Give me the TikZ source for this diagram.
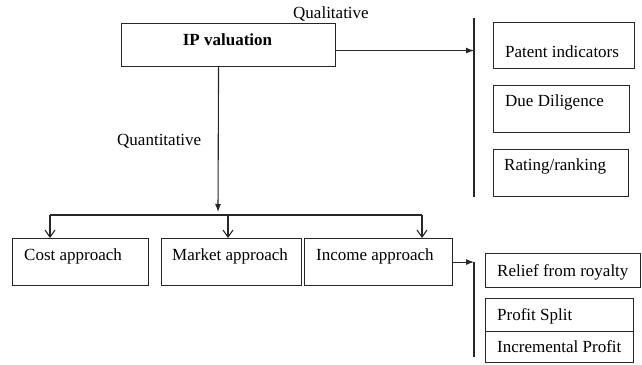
\documentclass[tikz,border=0pt]{standalone}
\usepackage{fontspec}
\setmainfont{Liberation Serif}
\usetikzlibrary{arrows.meta}
\begin{document}
\begin{tikzpicture}[x=1pt,y=-1pt,
  box/.style={draw=black!85,line width=1.1pt,rectangle,inner sep=0pt,anchor=north west},
  txt/.style={anchor=base west,inner sep=0pt,font=\fontsize{17}{20}\selectfont},
  ln/.style={draw=black!85,line width=1.1pt},
  arr/.style={ln,-{Latex[length=8pt,width=6pt]}},
  oarr/.style={ln,-{Straight Barb[length=7pt,width=10pt]}}]
\useasboundingbox (0,0) rectangle (642,364);
% boxes
\node[box,minimum width=214pt,minimum height=43pt] (ip) at (121,23) {};
\node[box,minimum width=141pt,minimum height=46pt] (pat) at (493,22) {};
\node[box,minimum width=136pt,minimum height=47pt] (due) at (493,85) {};
\node[box,minimum width=135pt,minimum height=47pt] (rat) at (493,149) {};
\node[box,minimum width=136pt,minimum height=47pt] (cost) at (12,238) {};
\node[box,minimum width=140pt,minimum height=47pt] (mkt) at (161,238) {};
\node[box,minimum width=148pt,minimum height=47pt] (inc) at (304,238) {};
\node[box,minimum width=155pt,minimum height=34pt] (rel) at (485,253) {};
\node[box,minimum width=148pt,minimum height=33pt] (ps) at (485,298) {};
\node[box,minimum width=148pt,minimum height=31pt] (ipf) at (485,331) {};
% texts
\node[txt,anchor=base,font=\fontsize{17}{20}\selectfont\bfseries] (tip) at (227.5,45.5) {IP valuation};
\node[txt] (tql) at (293,18.5) {Qualitative};
\node[txt] (tqn) at (117,145.5) {Quantitative};
\node[txt] (tpat) at (505,57) {Patent indicators};
\node[txt] (tdue) at (505,106.5) {Due Diligence};
\node[txt] (trat) at (504,170.5) {Rating/ranking};
\node[txt] (tcost) at (24,260) {Cost approach};
\node[txt] (tmkt) at (172,260) {Market approach};
\node[txt] (tinc) at (316,260) {Income approach};
\node[txt] (trel) at (497,276.5) {Relief from royalty};
\node[txt] (tps) at (497,320) {Profit Split};
\node[txt] (tipf) at (497,352.5) {Incremental Profit};
% bars and connector points
\coordinate (qtop) at (474,18);
\coordinate (qbot) at (474,197);
\coordinate (rtop) at (474,262);
\coordinate (rbot) at (474,357);
\coordinate (hl) at (50,215);
\coordinate (hm) at (228,215);
\coordinate (hr) at (422,215);
\coordinate (split) at (218,212);
\draw[ln] (qtop) -- (qbot);
\draw[ln] (rtop) -- (rbot);
\draw[arr] ([yshift=-5.5pt]ip.east) coordinate (qa) -- (qa -| qtop);
\draw[arr] ([xshift=-10pt]ip.south) -- (split);
\draw[ln] (hl) -- (hr);
\draw[oarr] (hl) -- (hl |- cost.north);
\draw[oarr] (hm) -- (hm |- mkt.north);
\draw[oarr] (hr) -- (hr |- inc.north);
\draw[arr] (inc.east) -- (inc.east -| rtop);
\end{tikzpicture}
\end{document}
